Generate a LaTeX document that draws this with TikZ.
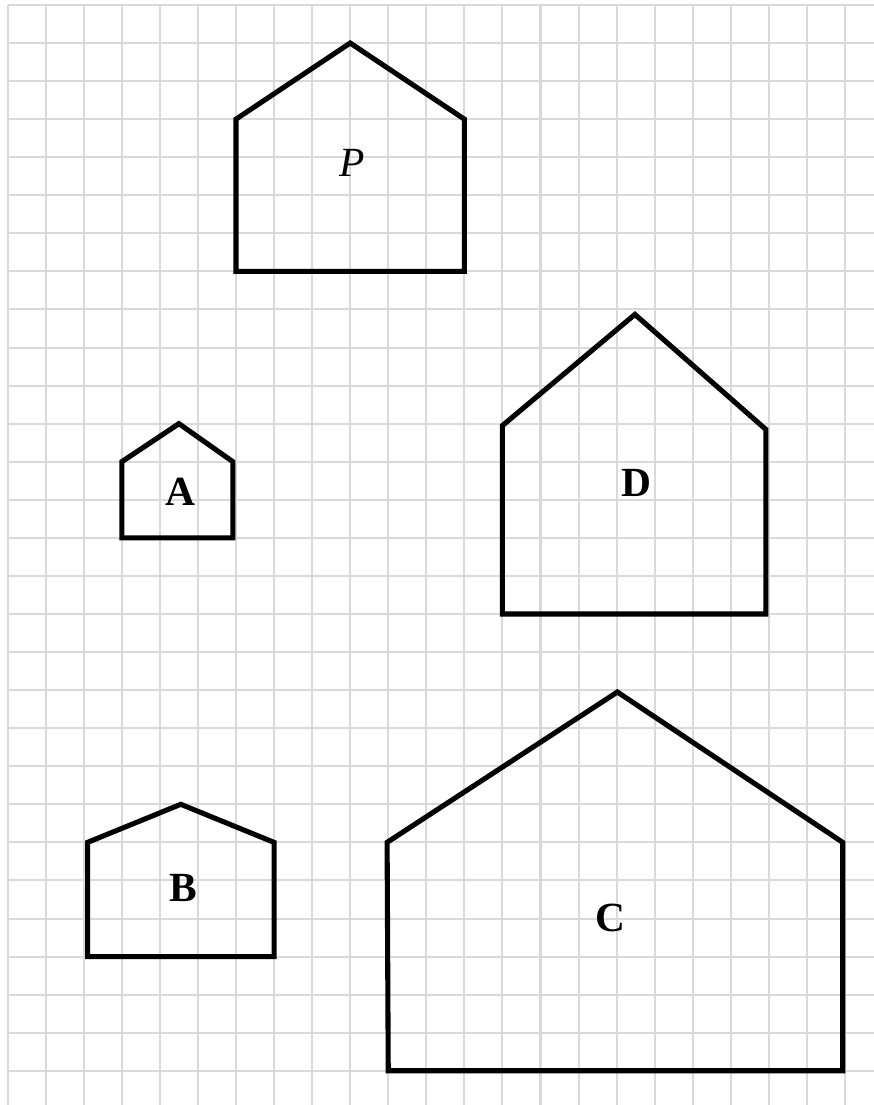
\documentclass[tikz,border=0pt]{standalone}
\usepackage{fontspec}
\setmainfont{Liberation Serif}
\usepackage{tikz}
\usepackage{xcolor}

\begin{document}
\begin{tikzpicture}[x=0.5cm,y=-0.5cm]%
  \tikzstyle{gridline}=[line width=0.75pt,draw=black!15]
  \tikzstyle{house}=[line width=1.9pt,line join=miter]
  \tikzstyle{tag}=[inner sep=0pt,font=\fontsize{15.5}{18}\selectfont\bfseries]
  \useasboundingbox (-0.2,-0.131) rectangle (22.76,28.9);
  % squared paper
  \foreach \i in {0,...,22} \draw[gridline] (\i,0) -- (\i,28.9);
  \foreach \j in {0,...,28} \draw[gridline] (0,\j) -- (22.76,\j);
  % the original figure and the four candidates
  \draw[house] (6,7) -- (6,3) -- (9,1) -- (12,3) -- (12,7) -- cycle;
  \draw[house] (3,14) -- (3,12) -- (4.5,11) -- (5.92,12) -- (5.92,14) -- cycle;
  \draw[house] (2.1,25) -- (2.1,22) -- (4.55,21) -- (7,22) -- (7,25) -- cycle;
  \draw[house] (10,28) -- (9.97,22) -- (16.02,18.05) -- (21.94,22) -- (21.94,28) -- cycle;
  \draw[house] (13,16) -- (13,11.05) -- (16.48,8.13) -- (19.92,11.15) -- (19.92,16) -- cycle;
  \node(p)[tag,font=\fontsize{15.5}{18}\selectfont\itshape] at (9.05,4.16) {P};
  \node(a)[tag] at (4.53,12.79) {A};
  \node(b)[tag] at (4.61,23.21) {B};
  \node(c)[tag] at (15.83,23.99) {C};
  \node(d)[tag] at (16.51,12.57) {D};
\end{tikzpicture}
\end{document}
